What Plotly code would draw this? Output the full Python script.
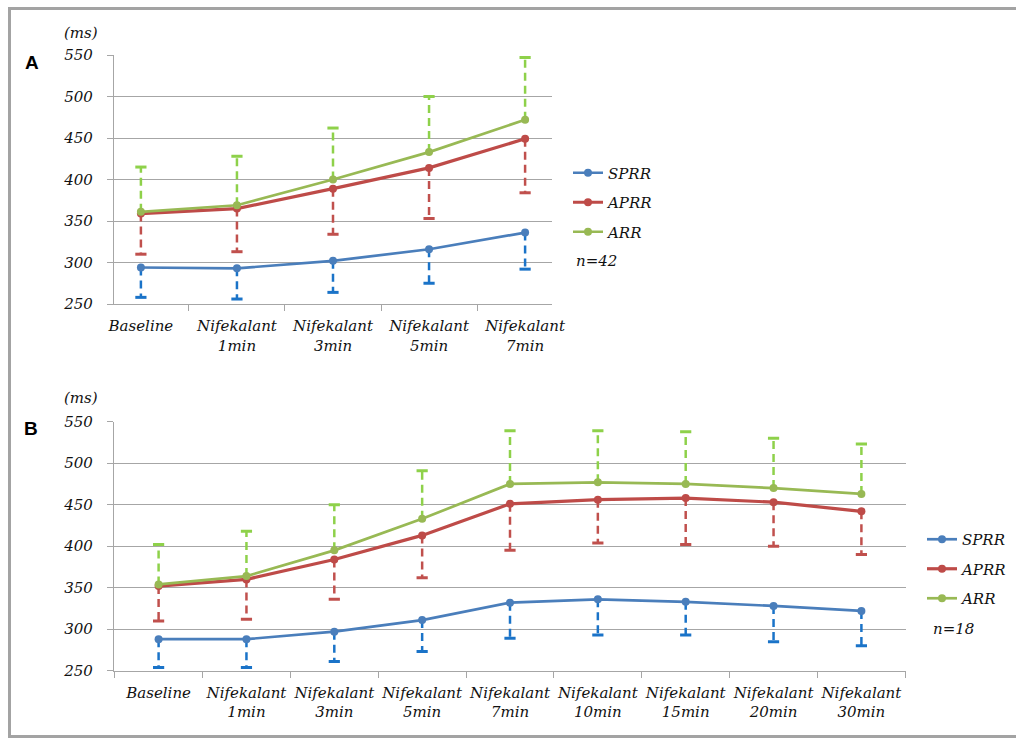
import plotly.graph_objects as go

# ---------------- data ----------------
cats_a = ["Baseline", "Nifekalant<br>1min", "Nifekalant<br>3min", "Nifekalant<br>5min",
          "Nifekalant<br>7min"]
sprr_a = [294, 293, 302, 316, 336]
sprr_a_sd = [36, 37, 38, 41, 44]
aprr_a = [359, 365, 389, 414, 449]
aprr_a_sd = [49, 52, 55, 61, 65]
arr_a = [361, 369, 400, 433, 472]
arr_a_sd = [54, 59, 62, 67, 75]

cats_b = ["Baseline", "Nifekalant<br>1min", "Nifekalant<br>3min", "Nifekalant<br>5min",
          "Nifekalant<br>7min", "Nifekalant<br>10min", "Nifekalant<br>15min",
          "Nifekalant<br>20min", "Nifekalant<br>30min"]
sprr_b = [288, 288, 297, 311, 332, 336, 333, 328, 322]
sprr_b_sd = [34, 34, 36, 38, 43, 43, 40, 43, 42]
aprr_b = [352, 360, 384, 413, 451, 456, 458, 453, 442]
aprr_b_sd = [42, 48, 48, 51, 56, 52, 56, 53, 52]
arr_b = [354, 364, 395, 433, 475, 477, 475, 470, 463]
arr_b_sd = [48, 54, 55, 58, 64, 62, 63, 60, 60]

y_ticks = [250, 300, 350, 400, 450, 500, 550]
n_a = "n=42"
n_b = "n=18"

# ---------------- styles ----------------
W, H = 1016, 738
SERIF = "DejaVu Serif"
FS = 15
TXT = "#111111"
line_col = {"SPRR": "#4A7EBB", "APRR": "#BE4B48", "ARR": "#98B954"}
err_col = {"SPRR": "#1A73C8", "APRR": "#C0504D", "ARR": "#8ED14A"}
line_w = {"SPRR": 2.7, "APRR": 3.2, "ARR": 2.7}
GRID = "#A6A6A6"


def px_x(v):
    return v / W


def px_y(v):
    return 1 - v / H


fig = go.Figure()


def add_panel(cats, series, xa, ya, legend_name):
    # error bars (dashed, one-sided, cap at far end)
    for name, vals, sd, direction in series:
        xs, ys, capx, capy = [], [], [], []
        for c, v, s in zip(cats, vals, sd):
            end = v + direction * s
            xs += [c, c, None]
            ys += [v, end, None]
            capx.append(c)
            capy.append(end)
        fig.add_trace(go.Scatter(
            x=xs, y=ys, mode="lines", xaxis=xa, yaxis=ya, showlegend=False,
            line=dict(color=err_col[name], width=2.5, dash="8px,5px"),
            hoverinfo="skip", connectgaps=False))
        fig.add_trace(go.Scatter(
            x=capx, y=capy, mode="markers", xaxis=xa, yaxis=ya, showlegend=False,
            marker=dict(symbol="line-ew", size=8,
                        line=dict(color=err_col[name], width=3)),
            hoverinfo="skip"))
    # lines
    for name, vals, sd, direction in series:
        fig.add_trace(go.Scatter(
            x=cats, y=vals, mode="lines+markers", name=name, xaxis=xa, yaxis=ya,
            legend=legend_name, legendgroup=legend_name + name,
            line=dict(color=line_col[name], width=line_w[name]),
            marker=dict(color=line_col[name], size=8)))


add_panel(cats_a, [("SPRR", sprr_a, sprr_a_sd, -1),
                   ("APRR", aprr_a, aprr_a_sd, -1),
                   ("ARR", arr_a, arr_a_sd, 1)], "x", "y", "legend")
add_panel(cats_b, [("SPRR", sprr_b, sprr_b_sd, -1),
                   ("APRR", aprr_b, aprr_b_sd, -1),
                   ("ARR", arr_b, arr_b_sd, 1)], "x2", "y2", "legend2")

tickfont = dict(family=SERIF, size=FS, style="italic", color=TXT)
xcommon = dict(type="category", tickson="boundaries", ticks="outside", ticklen=6,
               tickcolor=GRID, tickwidth=1.3, showline=True, linecolor=GRID,
               linewidth=1.3, showgrid=False, tickfont=tickfont, zeroline=False,
               fixedrange=True, automargin=False, tickangle=0, ticklabelstandoff=8)
ycommon = dict(range=[250, 550], tickvals=y_ticks, ticks="outside", ticklen=6,
               tickcolor=GRID, tickwidth=1.3, showline=True, linecolor=GRID,
               linewidth=1.3, showgrid=True, gridcolor=GRID, gridwidth=1.3,
               tickfont=tickfont, zeroline=False, ticklabelstandoff=11,
               fixedrange=True, automargin=False)

legend_common = dict(font=dict(family=SERIF, size=FS, style="italic", color=TXT),
                     bgcolor="rgba(0,0,0,0)", borderwidth=0, itemwidth=30,
                     tracegroupgap=7, traceorder="grouped",
                     xanchor="left", yanchor="top")

fig.update_layout(
    template="none",
    width=W, height=H,
    margin=dict(l=0, r=0, t=0, b=0, autoexpand=False),
    paper_bgcolor="white", plot_bgcolor="white",
    font=dict(family=SERIF, color=TXT),
    xaxis=dict(domain=[px_x(114), px_x(552)], anchor="y", categoryorder="array",
               categoryarray=cats_a, **xcommon),
    yaxis=dict(domain=[px_y(304), px_y(55)], anchor="x", **ycommon),
    xaxis2=dict(domain=[px_x(114), px_x(906)], anchor="y2", categoryorder="array",
                categoryarray=cats_b, **xcommon),
    yaxis2=dict(domain=[px_y(670.7), px_y(421.7)], anchor="x2", **ycommon),
    legend=dict(x=px_x(568), y=px_y(156.5), **legend_common),
    legend2=dict(x=px_x(922), y=px_y(523), **legend_common),
    showlegend=True,
)

annots = [
    dict(text="(ms)", x=px_x(81), y=px_y(33), font=dict(family=SERIF, size=15, style="italic", color=TXT)),
    dict(text="(ms)", x=px_x(81), y=px_y(398), font=dict(family=SERIF, size=15, style="italic", color=TXT)),
    dict(text="<b>A</b>", x=px_x(32), y=px_y(63), font=dict(family="Liberation Sans", size=19, color="#000000")),
    dict(text="<b>B</b>", x=px_x(31), y=px_y(428), font=dict(family="Liberation Sans", size=19, color="#000000")),
]
for a in annots:
    fig.add_annotation(xref="paper", yref="paper", showarrow=False,
                       xanchor="center", yanchor="middle", **a)
fig.add_annotation(text=n_a, xref="paper", yref="paper", x=px_x(574), y=px_y(261),
                   xanchor="left", yanchor="middle", showarrow=False,
                   font=dict(family=SERIF, size=FS, style="italic", color=TXT))
fig.add_annotation(text=n_b, xref="paper", yref="paper", x=px_x(931), y=px_y(629),
                   xanchor="left", yanchor="middle", showarrow=False,
                   font=dict(family=SERIF, size=FS, style="italic", color=TXT))

# outer frame
fig.add_shape(type="rect", xref="paper", yref="paper",
              x0=px_x(9.5), x1=1.05, y0=px_y(736.5), y1=px_y(8.5),
              line=dict(color="#A3A3A3", width=3), fillcolor="rgba(0,0,0,0)", layer="below")

fig.write_html("out.html", config={"displayModeBar": False},
               post_script="document.body.style.margin='0';document.body.style.overflow='hidden';")
